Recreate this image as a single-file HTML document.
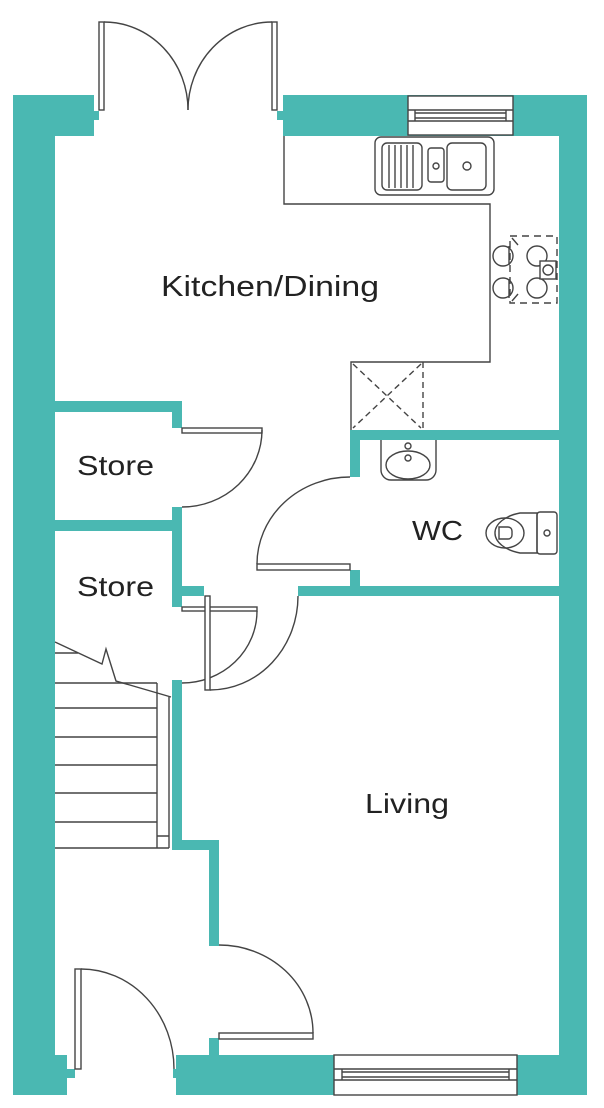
<!DOCTYPE html>
<html><head><meta charset="utf-8"><style>
html,body{margin:0;padding:0;background:#fff;}
svg{display:block;}
text{font-family:"Liberation Sans",sans-serif;fill:#222;}
</style></head><body>
<svg width="604" height="1108" viewBox="0 0 604 1108" xmlns="http://www.w3.org/2000/svg">
<g fill="#4ab8b2">
<!-- outer walls -->
<rect x="13" y="95" width="42" height="1000"/>
<rect x="13" y="95" width="81" height="41"/>
<rect x="94" y="111" width="5" height="9"/>
<rect x="283" y="95" width="304" height="41"/>
<rect x="277" y="111" width="6" height="9"/>
<rect x="559" y="95" width="28" height="1000"/>
<rect x="13" y="1055" width="54" height="40"/>
<rect x="67" y="1069" width="8" height="9"/>
<rect x="176" y="1055" width="411" height="40"/>
<rect x="173" y="1069" width="4" height="9"/>
<!-- stores -->
<rect x="55" y="401" width="127" height="11"/>
<rect x="172" y="401" width="10" height="27"/>
<rect x="172" y="507" width="10" height="100"/>
<rect x="55" y="520" width="127" height="11"/>
<rect x="182" y="586" width="22" height="10"/>
<rect x="172" y="680" width="10" height="170"/>
<rect x="172" y="840" width="47" height="10"/>
<rect x="209" y="840" width="10" height="106"/>
<rect x="209" y="1038" width="10" height="17"/>
<!-- WC -->
<rect x="350" y="430" width="209" height="10"/>
<rect x="350" y="430" width="10" height="47"/>
<rect x="350" y="570" width="10" height="20"/>
<rect x="298" y="586" width="261" height="10"/>
</g>
<g fill="none" stroke="#444" stroke-width="1.4">
<!-- french doors -->
<rect x="99" y="22" width="5" height="88" fill="#fff"/>
<rect x="272" y="22" width="5" height="88" fill="#fff"/>
<path d="M104 22 A84 88 0 0 1 188 110"/>
<path d="M272 22 A84 88 0 0 0 188 110"/>
<!-- top window -->
<rect x="408" y="96" width="105" height="39" fill="#fff"/>
<line x1="408" y1="110" x2="513" y2="110"/><line x1="408" y1="121" x2="513" y2="121"/>
<line x1="415" y1="110" x2="415" y2="121"/><line x1="506" y1="110" x2="506" y2="121"/>
<line x1="415" y1="113" x2="506" y2="113"/><line x1="415" y1="118" x2="506" y2="118"/>
<!-- sink -->
<rect x="375" y="137" width="119" height="58" rx="6"/>
<rect x="382" y="143" width="40" height="47" rx="5"/>
<path d="M389 145v43M395 145v43M401 145v43M407 145v43M413 145v43"/>
<rect x="428" y="148" width="16" height="34" rx="3"/>
<circle cx="436" cy="166" r="3"/>
<rect x="447" y="143" width="39" height="47" rx="5"/>
<circle cx="467" cy="166" r="4"/>
<!-- worktop -->
<path d="M284 136V204H490V362H351V430"/>
<line x1="423" y1="362" x2="423" y2="430" stroke-dasharray="6 4"/>
<path d="M353 364L421 428M421 364L353 428" stroke-dasharray="6 4"/>
<!-- hob -->
<rect x="510" y="236" width="47" height="67" stroke-dasharray="7 5"/>
<circle cx="503" cy="256" r="10"/><circle cx="537" cy="256" r="10"/>
<circle cx="503" cy="288" r="10"/><circle cx="537" cy="288" r="10"/>
<line x1="509" y1="246" x2="509" y2="265"/><line x1="509" y1="279" x2="509" y2="298"/>
<path d="M512 238l6 7M512 301l6 -7"/>
<rect x="540" y="261" width="16" height="18" fill="#fff"/><circle cx="548" cy="270" r="5"/>
<!-- store doors -->
<rect x="182" y="428" width="80" height="5" fill="#fff"/>
<path d="M262 430 A80 77 0 0 1 182 507"/>
<rect x="182" y="607" width="75" height="4" fill="#fff"/>
<path d="M257 611 A75 72 0 0 1 182 683"/>
<!-- hall->living door -->
<rect x="205" y="596" width="5" height="94" fill="#fff"/>
<path d="M210 690 A88 94 0 0 0 298 596"/>
<!-- WC door -->
<rect x="257" y="564" width="93" height="6" fill="#fff"/>
<path d="M257 564 A93 87 0 0 1 350 477"/>
<!-- basin -->
<path d="M381 440V470A10 10 0 0 0 391 480H426A10 10 0 0 0 436 470V440"/>
<ellipse cx="408" cy="465" rx="22" ry="14"/>
<circle cx="408" cy="446" r="3"/><circle cx="408" cy="458" r="3"/>
<!-- toilet -->
<path d="M537 513H520A36 21 0 0 0 520 553H537Z"/>
<ellipse cx="505" cy="533" rx="19" ry="15"/>
<path d="M499 527h9a4 4 0 0 1 4 4v4a4 4 0 0 1 -4 4h-9z"/>
<rect x="537" y="512" width="20" height="42" rx="3"/>
<circle cx="547" cy="533" r="3"/>
<!-- stairs -->
<path d="M55 653H78M55 683H157M55 708H157M55 737H157M55 765H157M55 793H157M55 822H157M55 848H169"/>
<path d="M157 683V848M169 697V848M157 836H169"/>
<path d="M55 642L102 664L106 649L116 681L171 697"/>
<!-- living door -->
<path d="M219 945 A94 88 0 0 1 313 1033"/>
<rect x="219" y="1033" width="94" height="6" fill="#fff"/>
<!-- front door -->
<rect x="75" y="969" width="6" height="100" fill="#fff"/>
<path d="M81 969 A93 100 0 0 1 174 1069"/>
<!-- bottom window -->
<rect x="334" y="1055" width="183" height="40" fill="#fff"/>
<line x1="334" y1="1069" x2="517" y2="1069"/><line x1="334" y1="1080" x2="517" y2="1080"/>
<line x1="342" y1="1069" x2="342" y2="1080"/><line x1="509" y1="1069" x2="509" y2="1080"/>
<line x1="342" y1="1072" x2="509" y2="1072"/><line x1="342" y1="1077" x2="509" y2="1077"/>
</g>
<text x="161" y="296" font-size="29" textLength="218" lengthAdjust="spacingAndGlyphs">Kitchen/Dining</text>
<text x="77" y="475" font-size="28" textLength="77" lengthAdjust="spacingAndGlyphs">Store</text>
<text x="77" y="596" font-size="28" textLength="77" lengthAdjust="spacingAndGlyphs">Store</text>
<text x="412" y="540" font-size="28" textLength="51" lengthAdjust="spacingAndGlyphs">WC</text>
<text x="365" y="813" font-size="28" textLength="84" lengthAdjust="spacingAndGlyphs">Living</text>
</svg>
</body></html>
